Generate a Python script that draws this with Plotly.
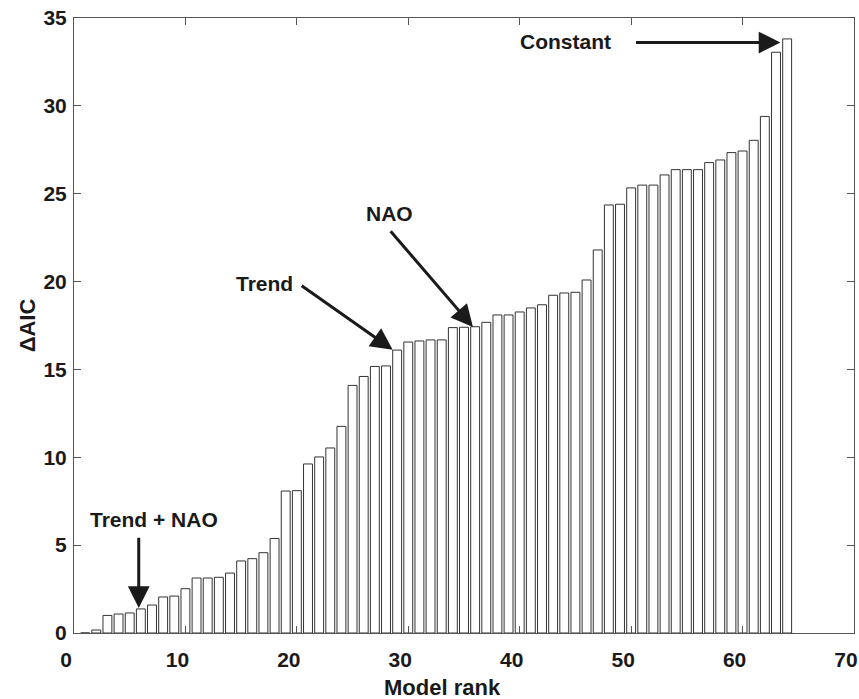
import plotly.graph_objects as go

ranks = list(range(1, 65))
delta_aic = [0.0, 0.17, 1.0, 1.08, 1.14, 1.37, 1.59, 2.05, 2.1, 2.52,
             3.13, 3.13, 3.17, 3.41, 4.10, 4.23, 4.57, 5.38, 8.08, 8.1,
             9.62, 10.02, 10.53, 11.76, 14.09, 14.6, 15.17, 15.2, 16.1, 16.56,
             16.62, 16.68, 16.68, 17.38, 17.40, 17.43, 17.68, 18.1, 18.1, 18.27,
             18.5, 18.68, 19.22, 19.35, 19.39, 20.09, 21.8, 24.36, 24.4, 25.33,
             25.49, 25.49, 26.07, 26.37, 26.37, 26.37, 26.77, 26.92, 27.34, 27.43,
             28.04, 29.4, 33.05, 33.81]

x_ticks = [0, 10, 20, 30, 40, 50, 60, 70]
y_ticks = [0, 5, 10, 15, 20, 25, 30, 35]
x_title = "Model rank"
y_title = "ΔAIC"

# annotations: label, text position, arrow tail, arrow head
labels = ["Constant", "NAO", "Trend", "Trend + NAO"]
label_x = [44.1, 28.3, 17.1, 7.2]
label_y = [33.65, 23.9, 19.9, 6.45]
tail_x = [50.3, 28.3, 20.3, 5.81]
tail_y = [33.6, 22.95, 19.82, 5.5]
head_x = [63.4, 35.8, 28.6, 5.81]
head_y = [33.6, 17.42, 16.12, 1.42]

fig = go.Figure()
fig.add_trace(go.Bar(
    x=ranks, y=delta_aic, width=0.8,
    marker=dict(color="white", line=dict(color="#333333", width=1)),
    showlegend=False,
))

fam = "Liberation Sans, Arial, sans-serif"
font_tick = dict(family=fam, size=21, color="#1a1a1a", weight="bold")
font_txt = dict(family=fam, size=21, color="#1a1a1a", weight="bold")
font_title = dict(family=fam, size=22, color="#1a1a1a", weight="bold")

for i, lab in enumerate(labels):
    fig.add_annotation(x=label_x[i], y=label_y[i], text=lab, showarrow=False,
                       xref="x", yref="y", font=font_txt)
    fig.add_annotation(x=head_x[i], y=head_y[i], ax=tail_x[i], ay=tail_y[i],
                       xref="x", yref="y", axref="x", ayref="y", text="",
                       showarrow=True, arrowhead=2, arrowsize=1.45, arrowwidth=3,
                       arrowcolor="#1a1a1a", standoff=0, startstandoff=0)

# x-axis title (placed slightly left of centre as in the reference)
fig.add_annotation(x=0.473, y=-0.089, xref="paper", yref="paper", text=x_title,
                   showarrow=False, font=font_title, xanchor="center", yanchor="middle")

axis_common = dict(
    showline=True, linecolor="#555555", linewidth=1, mirror="ticks",
    ticks="inside", ticklen=7, tickcolor="#555555", showgrid=False, zeroline=False,
    tickfont=font_tick, ticklabeloverflow="allow", automargin=False,
)

fig.update_xaxes(range=[0, 70], tickvals=x_ticks, ticktext=[str(v) for v in x_ticks],
                 ticklabelstandoff=8, ticklabelshift=-8, **axis_common)
fig.update_yaxes(range=[0, 35], tickvals=y_ticks, ticktext=[str(v) for v in y_ticks],
                 title=dict(text=y_title, font=font_title, standoff=1),
                 ticklabelstandoff=2, **axis_common)

fig.update_layout(
    width=859, height=699,
    margin=dict(l=74, r=5, t=18, b=66, autoexpand=False),
    plot_bgcolor="white", paper_bgcolor="white",
    bargap=0.2,
)

fig.write_html("out.html", config={"displayModeBar": False},
               post_script="document.body.style.margin='0';document.body.style.overflow='hidden';")
